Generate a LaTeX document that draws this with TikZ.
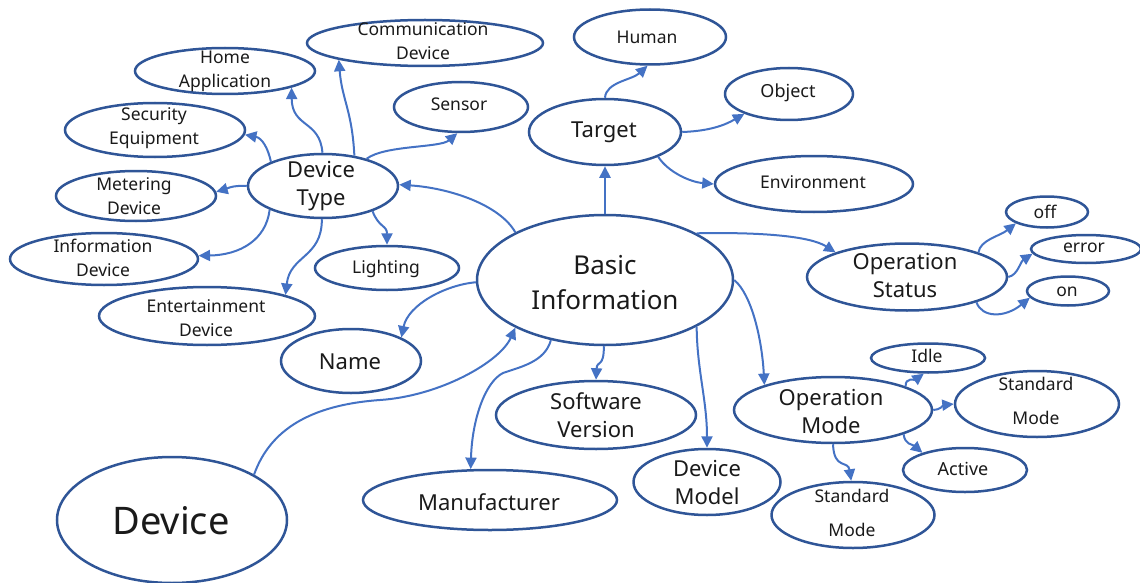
\documentclass[tikz,border=0pt]{standalone}
\usepackage{fontspec}
\setmainfont{Noto Sans}
\usetikzlibrary{shapes.geometric,arrows.meta}
\definecolor{ellc}{HTML}{2F5597}
\definecolor{conc}{HTML}{4472C4}
\definecolor{txtc}{HTML}{1A1A1A}
\tikzset{
  ell/.style={draw=ellc, line width=2.5pt, ellipse, inner sep=0pt, fill=white},
  txt/.style={inner sep=0pt, align=center, text=txtc},
  sm/.style={txt, font=\fontsize{17.5}{24}\selectfont},
  smx/.style={txt, font=\fontsize{18}{24}\selectfont},
  md/.style={txt, font=\fontsize{22}{28}\selectfont},
  lg/.style={txt, font=\fontsize{26}{35}\selectfont},
  xl/.style={txt, font=\fontsize{38}{44}\selectfont},
  sd/.style={txt, font=\fontsize{17.5}{34}\selectfont},
  con/.style={draw=conc, line width=2pt, -{Triangle[length=11.5pt,width=11pt]}},
}
\begin{document}
\begin{tikzpicture}[x=1pt,y=1pt]
\useasboundingbox (0,0) rectangle (1140,-583);

% ellipses
\node[ell,minimum width=236pt,minimum height=46pt] (comm) at (425,-43) {};
\node[ell,minimum width=180pt,minimum height=46pt] (home) at (225,-71) {};
\node[ell,minimum width=180pt,minimum height=54pt] (sec) at (155,-130) {};
\node[ell,minimum width=134pt,minimum height=50pt] (sensor) at (461,-107) {};
\node[ell,minimum width=150pt,minimum height=64pt] (dtype) at (323,-186) {};
\node[ell,minimum width=160pt,minimum height=50pt] (meter) at (136,-196) {};
\node[ell,minimum width=188pt,minimum height=52pt] (info) at (104,-259) {};
\node[ell,minimum width=144pt,minimum height=44pt] (light) at (387,-268) {};
\node[ell,minimum width=216pt,minimum height=58pt] (ent) at (207,-316) {};
\node[ell,minimum width=140pt,minimum height=64pt] (name) at (351,-361) {};
\node[ell,minimum width=230pt,minimum height=126pt] (device) at (172,-520) {};
\node[ell,minimum width=256pt,minimum height=130pt] (bi) at (605,-280) {};
\node[ell,minimum width=152pt,minimum height=66pt] (target) at (605,-132) {};
\node[ell,minimum width=152pt,minimum height=55pt] (human) at (650,-37) {};
\node[ell,minimum width=128pt,minimum height=52pt] (object) at (789,-94) {};
\node[ell,minimum width=198pt,minimum height=56pt] (env) at (814,-184) {};
\node[ell,minimum width=82pt,minimum height=31pt] (off) at (1047,-212) {};
\node[ell,minimum width=110pt,minimum height=28pt] (err) at (1086,-249) {};
\node[ell,minimum width=82pt,minimum height=29pt] (on) at (1068,-291) {};
\node[ell,minimum width=200pt,minimum height=67pt] (ostat) at (907,-277) {};
\node[ell,minimum width=114pt,minimum height=29pt] (idle) at (928,-358) {};
\node[ell,minimum width=198pt,minimum height=66pt] (omode) at (833,-410) {};
\node[ell,minimum width=164pt,minimum height=66pt] (smr) at (1037,-404) {};
\node[ell,minimum width=124pt,minimum height=44pt] (active) at (965,-470) {};
\node[ell,minimum width=163pt,minimum height=66pt] (smb) at (853,-515) {};
\node[ell,minimum width=147pt,minimum height=66pt] (dmodel) at (707,-482) {};
\node[ell,minimum width=200pt,minimum height=68pt] (sw) at (596,-415) {};
\node[ell,minimum width=254pt,minimum height=60pt] (manu) at (490,-500) {};

% texts
\node[sm] (comm-t) at (423,-41) {Communication\\Device};
\node[sm] (home-t) at (225,-71) {Home\\Application};
\node[sm] (sec-t) at (154,-128) {Security\\Equipment};
\node[sm] (sensor-t) at (459,-104) {Sensor};
\node[md] (dtype-t) at (321,-186) {Device\\Type};
\node[sm] (meter-t) at (134,-196) {Metering\\Device};
\node[sm] (info-t) at (103,-258) {Information\\Device};
\node[sm] (light-t) at (386,-269) {Lighting};
\node[sm] (ent-t) at (206,-318) {Entertainment\\Device};
\node[md] (name-t) at (350,-362) {Name};
\node[xl] (device-t) at (171,-521) {Device};
\node[lg] (bi-t) at (605,-283) {Basic\\Information};
\node[md] (target-t) at (604,-132) {Target};
\node[sm] (human-t) at (647,-37) {Human};
\node[smx] (object-t) at (788,-93) {Object};
\node[sm] (env-t) at (813,-182) {Environment};
\node[sm] (off-t) at (1045,-212) {off};
\node[sm] (err-t) at (1084,-248) {error};
\node[sm] (on-t) at (1067,-292) {on};
\node[md] (ostat-t) at (905,-276) {Operation\\Status};
\node[sm] (idle-t) at (927,-356) {Idle};
\node[md] (omode-t) at (831,-411) {Operation\\Mode};
\node[sd] (smr-t) at (1036,-401) {Standard\\Mode};
\node[smx] (active-t) at (963,-469) {Active};
\node[sd] (smb-t) at (852,-513) {Standard\\Mode};
\node[md] (dmodel-t) at (707,-482) {Device\\Model};
\node[md] (sw-t) at (596,-415) {Software\\Version};
\node[md] (manu-t) at (489,-502) {Manufacturer};

% connectors
\draw[con] (device.29) .. controls (270,-430) and (310,-405) .. (380,-400)
   .. controls (440,-396) and (500,-362) .. (bi.208);
\draw[con] (bi.152) .. controls (500,-205) and (450,-188) .. (dtype.1);
\draw[con] (bi.north) -- (target.south);
\draw[con] (target.north) .. controls (606,-82) and (632,-80) .. (human.265);
\draw[con] (target.0) .. controls (710,-131) and (725,-125) .. (object.204);
\draw[con] (target.-25) .. controls (668,-172) and (690,-182) .. (env.180);
\draw[con] (bi.27) .. controls (760,-232) and (810,-236) .. (ostat.161);
\draw[con] (ostat.19) .. controls (980,-240) and (1000,-236) .. (off.200);
\draw[con] (ostat.0) .. controls (1018,-275) and (1020,-262) .. (err.185);
\draw[con] (ostat.-20) .. controls (982,-318) and (1005,-318) .. (on.190);
\draw[con] (bi.0) .. controls (752,-295) and (762,-340) .. (omode.160);
\draw[con] (bi.-27) .. controls (697,-370) and (707,-400) .. (dmodel.north);
\draw[con] (bi.-91) .. controls (604,-368) and (597,-360) .. (sw.north);
\draw[con] (bi.228) .. controls (545,-362) and (520,-367) .. (503,-373)
   .. controls (485,-382) and (472,-420) .. (manu.122);
\draw[con] (bi.181) .. controls (445,-285) and (408,-305) .. (name.25);
\draw[con] (dtype.91) .. controls (320,-120) and (292,-128) .. (home.-14);
\draw[con] (dtype.44) .. controls (352,-110) and (342,-100) .. (comm.191);
\draw[con] (dtype.32) .. controls (385,-145) and (440,-148) .. (sensor.262);
\draw[con] (dtype.155) .. controls (268,-148) and (262,-138) .. (sec.-3);
\draw[con] (dtype.180) .. controls (232,-185) and (226,-189) .. (meter.3);
\draw[con] (dtype.204) .. controls (266,-240) and (240,-255) .. (info.2);
\draw[con] (dtype.268) .. controls (322,-258) and (290,-255) .. (ent.15);
\draw[con] (dtype.-27) .. controls (379,-228) and (387,-225) .. (light.north);
\draw[con] (omode.18) .. controls (905,-377) and (915,-380) .. (idle.255);
\draw[con] (omode.0) .. controls (940,-410) and (944,-405) .. (smr.180);
\draw[con] (omode.-19) .. controls (905,-445) and (912,-444) .. (active.158);
\draw[con] (omode.south) .. controls (834,-470) and (848,-460) .. (smb.93);
\end{tikzpicture}
\end{document}
